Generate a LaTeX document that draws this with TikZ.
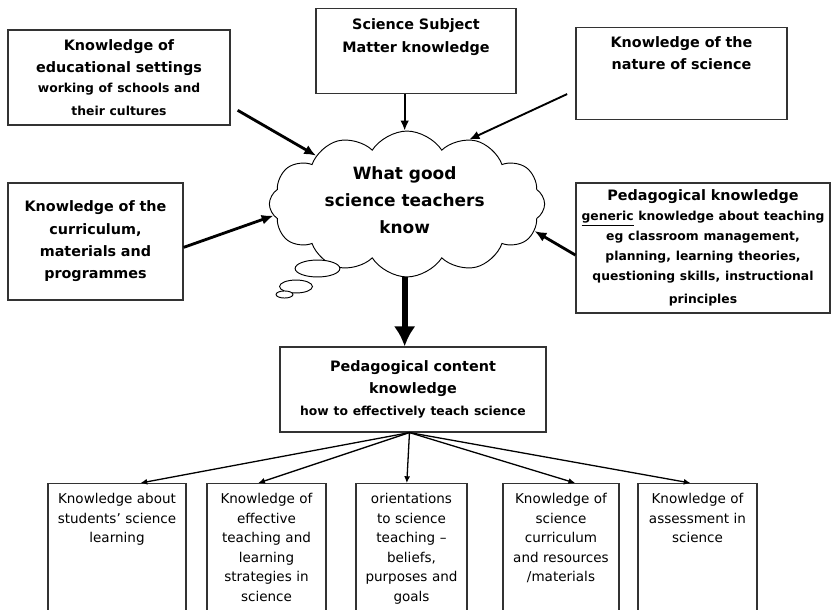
\documentclass[tikz,border=0pt]{standalone}
\usepackage{fontspec}
\setmainfont{DejaVu Sans}
\usepackage{tikz}
\usetikzlibrary{shapes.symbols, arrows.meta, positioning}

\newcommand{\headfont}{\fontsize{12.2}{19}\selectfont\bfseries}
\newcommand{\notefont}{\fontsize{10.5}{17}\selectfont\bfseries}
\newcommand{\cloudfont}{\fontsize{14.4}{23}\selectfont\bfseries}
\newcommand{\leaffont}{\fontsize{11.5}{16.6}\selectfont}

\begin{document}
\begin{tikzpicture}[
			x=0.85pt, y=-0.85pt,
			every node/.style={align=center},
			block/.style={rectangle, draw=black!80, line width=1pt, inner sep=6pt, font=\headfont},
			topblock/.style={block, anchor=north, text height=12pt},
			leaf/.style={rectangle, draw=black!80, line width=1pt, anchor=north, inner xsep=3pt, inner ysep=6pt, text height=11pt, text depth=93pt, font=\leaffont},
			line/.style={-{Latex[length=3.5mm, width=3mm]}, line width=2.4pt},
			thinline/.style={-{Latex[length=3mm, width=2.6mm]}, line width=1.6pt},
			bigline/.style={-{Latex[length=6mm, width=6.5mm]}, line width=5pt},
			fanline/.style={-{Latex[length=2mm, width=1.8mm]}, line width=1.1pt}
			]
			
			\fill[white] (0,0) rectangle (832,609);
			\clip (0,0) rectangle (832,609);
			
			\node[block, minimum width=188.7pt, minimum height=80.75pt, text width=176pt] (edu) at (119,77.5) {Knowledge of\\educational settings\par\notefont working of schools and\\their cultures};
			\node[topblock, minimum width=170pt, text width=158pt, text depth=48pt] (subject) at (416,8) {Science Subject\\Matter knowledge};
			\node[topblock, minimum width=179.4pt, text width=167pt, text height=11pt, text depth=55pt] (nature) at (681.5,27) {Knowledge of the\\nature of science};
			\node[block, minimum width=148.75pt, minimum height=99.45pt, text width=136pt] (curr) at (95.5,241.5) {Knowledge of the\\curriculum,\\materials and\\programmes};
			\node[block, inner xsep=2pt, minimum width=215.9pt, minimum height=110.5pt, text width=211pt] (ped) at (703,248) {Pedagogical knowledge\par\notefont \underline{generic} knowledge about teaching\\eg classroom management,\\planning, learning theories,\\questioning skills, instructional\\principles};
			
			\node[cloud, draw, line width=0.8pt, cloud puffs=12, cloud puff arc=115, cloud ignores aspect, minimum width=234pt, minimum height=124pt] (cloud) at (407,204) {};
			\node[font=\cloudfont] (know) at ([xshift=-2pt, yshift=3pt]cloud.center) {What good\\science teachers\\know};
			\draw[fill=white, line width=0.8pt] (317.5,268.5) ellipse [x radius=19pt, y radius=7.2pt];
			\draw[fill=white, line width=0.8pt] (296,286.5) ellipse [x radius=14pt, y radius=5.5pt];
			\draw[fill=white, line width=0.8pt] (284.5,294.5) ellipse [x radius=7.2pt, y radius=3pt];
			
			\node[block, minimum width=226pt, minimum height=72.25pt, text width=214pt] (pck) at (413,389.5) {Pedagogical content\\knowledge\par\notefont how to effectively teach science};
			
			\node[leaf, minimum width=117.3pt, text width=111pt] (students) at (117,483) {Knowledge about\\students’ science\\learning};
			\node[leaf, minimum width=101.15pt, text width=95pt] (strategies) at (266.5,483) {Knowledge of\\effective\\teaching and\\learning\\strategies in\\science};
			\node[leaf, minimum width=94.35pt, text width=88pt] (orient) at (411.5,483) {orientations\\to science\\teaching --\\beliefs,\\purposes and\\goals};
			\node[leaf, minimum width=98.6pt, text width=92pt] (resources) at (561,483) {Knowledge of\\science\\curriculum\\and resources\\/materials};
			\node[leaf, minimum width=101.15pt, text width=95pt] (assess) at (697.5,483) {Knowledge of\\assessment in\\science};
			
			\draw[line] ([xshift=6pt, yshift=13pt]edu.south east) -- (cloud.152);
			\draw[thinline] ([xshift=-2pt]cloud.north |- subject.south) -- ([xshift=-2pt]cloud.north);
			\draw[thinline] ([xshift=-7pt, yshift=22pt]nature.south west) -- (cloud.46);
			\draw[line] ([yshift=-5pt]curr.east) -- (cloud.185);
			\draw[line] ([yshift=-6pt]ped.west) -- (cloud.348);
			\draw[bigline] ([xshift=-2pt]cloud.south) -- ([xshift=-2pt]cloud.south |- pck.north);
			
			\draw[fanline] ([xshift=-3pt]pck.south) -- ([xshift=20pt]students.north);
			\draw[fanline] ([xshift=-3pt]pck.south) -- ([xshift=-7pt]strategies.north);
			\draw[fanline] ([xshift=-3pt]pck.south) -- ([xshift=-4pt]orient.north);
			\draw[fanline] ([xshift=-3pt]pck.south) -- ([xshift=12pt]resources.north);
			\draw[fanline] ([xshift=-3pt]pck.south) -- ([xshift=-6pt]assess.north);
		\end{tikzpicture}
\end{document}
